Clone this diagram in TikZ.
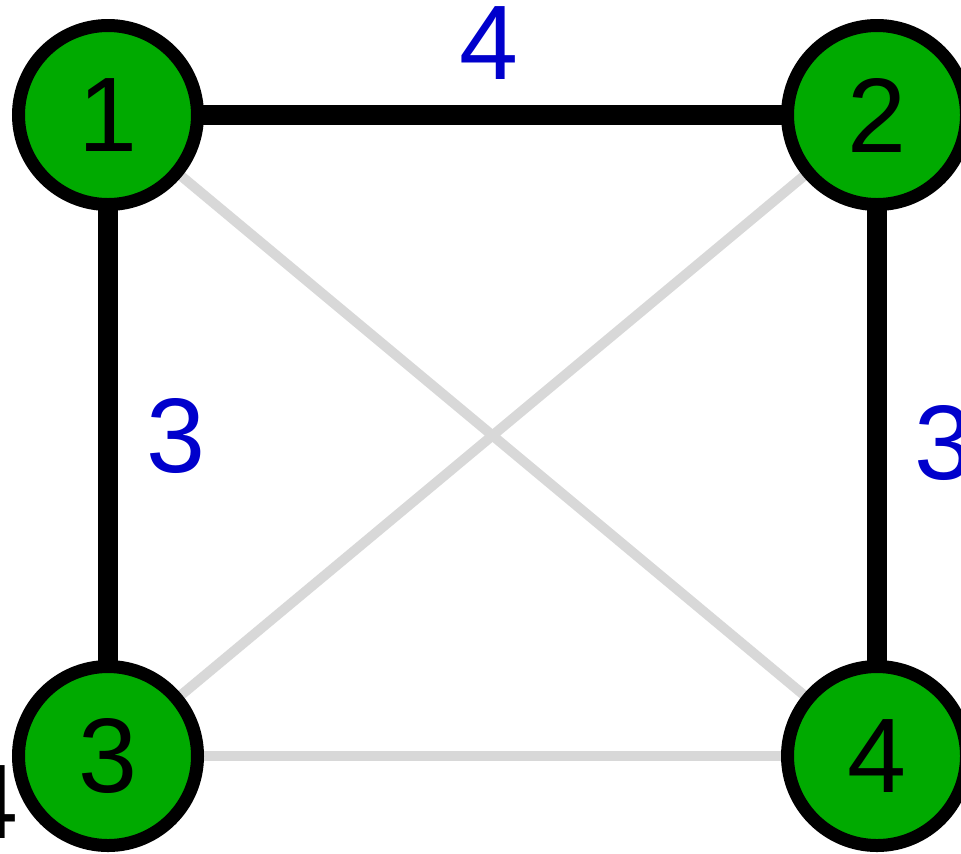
\documentclass[tikz,border=0pt]{standalone}
\usepackage{fontspec}
\setmainfont{Liberation Sans}
\usepackage{xcolor}
\usepackage{tikz}
\usetikzlibrary{positioning, backgrounds}
\definecolor{vertexgreen}{RGB}{0, 170, 0}
\definecolor{weightblue}{RGB}{0, 0, 204}
\definecolor{unusedgray}{RGB}{216, 216, 216}

\begin{document}
\begin{tikzpicture}[
    x=0.5pt, y=-0.5pt,
    on grid,
    vertex/.style={circle, draw=black, fill=vertexgreen, line width=6.5pt,
                   minimum size=89.5pt, inner sep=0pt, outer sep=0pt,
                   font=\fontsize{53}{60}\selectfont},
    weight/.style={font=\fontsize{53}{60}\selectfont, text=weightblue, inner sep=0pt},
    treeedge/.style={line width=10pt, color=black},
    otheredge/.style={line width=5pt, color=unusedgray}
]

% Canvas
\useasboundingbox (0,0) rectangle (961,853);

% Vertices
\node[vertex] (v1) at (108,115) {1};
\node[vertex, right=384.5pt of v1] (v2) {2};
\node[vertex, below=320.5pt of v1] (v3) {3};
\node[vertex, below=320.5pt of v2] (v4) {4};

\begin{scope}[on background layer]
% Unused edges
\draw[otheredge] (v1) -- (v4);
\draw[otheredge] (v2) -- (v3);
\draw[otheredge] (v3) -- (v4);

% Tree edges
\draw[treeedge] (v1) -- node[weight, xshift=-2pt, yshift=36pt] {4} (v2);
\draw[treeedge] (v1) -- node[weight, xshift=34pt] {3} (v3);
\draw[treeedge] (v2) -- node[weight, xshift=33.5pt, yshift=-3.5pt] {3} (v4);
\end{scope}

% Weight of the neighbouring edge
\node[font=\fontsize{53}{60}\selectfont, inner sep=0pt, left=59.5pt of v3, yshift=-23pt] (w3) {4};

\end{tikzpicture}
\end{document}
